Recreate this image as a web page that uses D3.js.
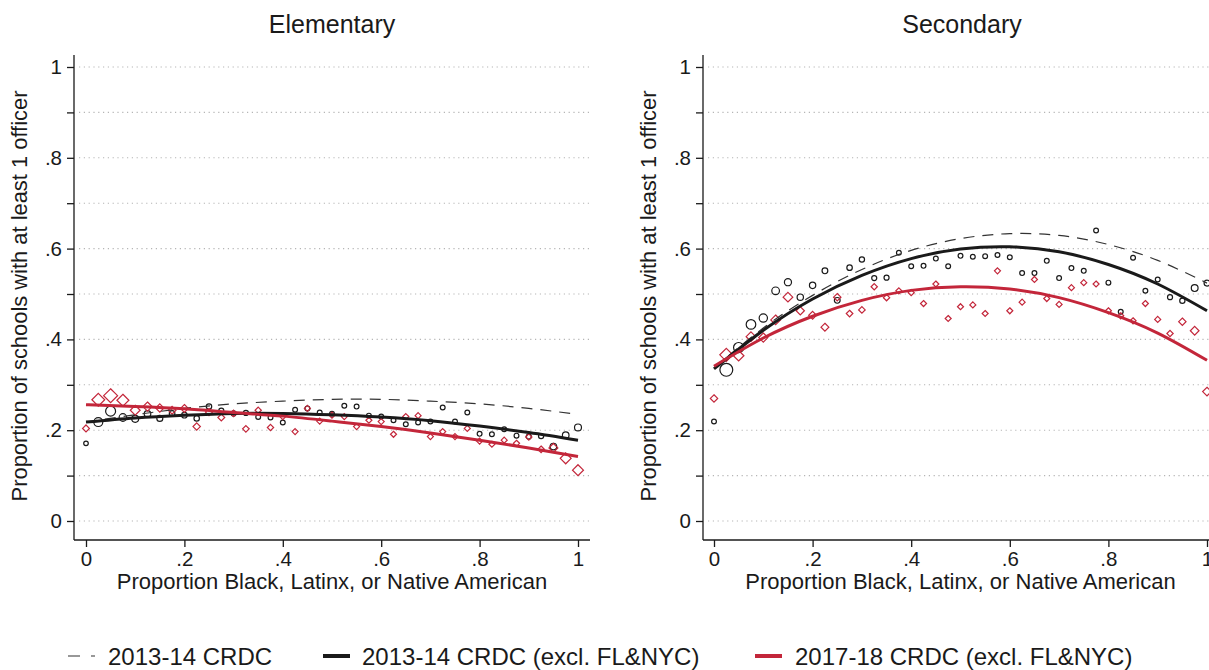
<!DOCTYPE html>
<html><head><meta charset="utf-8">
<script src="https://cdn.jsdelivr.net/npm/d3@7"></script>
<style>
body{margin:0;background:#fff}
text{font-family:"Liberation Sans",Arial,Helvetica,sans-serif;fill:#1a1a1a}
</style>
</head><body>
<svg id="c" width="1209" height="670"></svg>
<script>
// ---------- DATA ----------
const binX = [0,0.025,0.05,0.075,0.1,0.125,0.15,0.175,0.2,0.225,0.25,0.275,0.3,0.325,0.35,0.375,0.4,0.425,0.45,0.475,0.5,0.525,0.55,0.575,0.6,0.625,0.65,0.675,0.7,0.725,0.75,0.775,0.8,0.825,0.85,0.875,0.9,0.925,0.95,0.975,1];

// Elementary, 2013-14 CRDC (excl. FL&NYC) – binned means
const elemOld = [0.171,0.218,0.242,0.228,0.225,0.236,0.226,0.237,0.233,0.226,0.252,0.243,0.237,0.238,0.229,0.228,0.217,0.245,0.248,0.239,0.236,0.254,0.252,0.232,0.230,0.222,0.213,0.217,0.219,0.250,0.219,0.239,0.192,0.191,0.202,0.188,0.186,0.187,0.164,0.189,0.206];
const elemOldW = [0.92,3.5,4.3,2.5,2.1,1.9,1.56,1.36,1.36,1.27,1.27,1.1,1.1,1.1,1,1,1,1,1,1,1,1,1,1,1,1,1,1,1,1,1,1,1,1,1,1,1.1,1.17,1.9,1.9,2.1];
// Elementary, 2017-18 CRDC (excl. FL&NYC)
const elemNew = [0.204,0.267,0.276,0.266,0.244,0.252,0.249,0.244,0.248,0.208,0.240,0.228,0.237,0.203,0.244,0.206,0.230,0.197,0.248,0.220,0.233,0.230,0.208,0.222,0.219,0.191,0.230,0.232,0.186,0.197,0.186,0.204,0.176,0.169,0.178,0.171,0.185,0.158,0.161,0.138,0.112];
const elemNewW = [1.3,4.6,5.4,4.0,2.7,2.3,1.9,1.7,1.7,1.5,1.4,1.3,1.2,1.2,1.1,1.1,1,1,1,1,1,1,1,1,1,1,1,1,1,1,1,1,1,1,1,1.05,1.1,1.2,2.2,3.3,3.3];

// Secondary, 2013-14 CRDC (excl. FL&NYC)
const secOld = [0.219,0.333,0.382,0.433,0.447,0.507,0.526,0.493,0.519,0.551,0.486,0.558,0.576,0.535,0.536,0.591,0.561,0.562,0.578,0.561,0.584,0.582,0.583,0.586,0.581,0.546,0.546,0.573,0.535,0.557,0.551,0.640,0.525,0.461,0.580,0.507,0.532,0.493,0.485,0.513,0.524];
const secOldW = [1,7.2,4.5,4,3,2.56,2.2,1.74,1.74,1.44,1.44,1.3,1.2,1.1,1.1,1,1,1,1,1,1,1,1,1,1,1,1,1,1,1,1,1,1,1,1,1,1,1.1,1.2,2,1.5];
// Secondary, 2017-18 CRDC (excl. FL&NYC)
const secNew = [0.270,0.366,0.364,0.406,0.404,0.443,0.493,0.463,0.453,0.427,0.493,0.457,0.465,0.516,0.492,0.507,0.503,0.479,0.522,0.446,0.472,0.476,0.457,0.551,0.463,0.482,0.532,0.490,0.477,0.514,0.525,0.522,0.463,0.452,0.441,0.479,0.444,0.413,0.439,0.419,0.285];
const secNewW = [1.5,4.7,3.1,2.6,2.3,2.6,2.6,1.9,1.7,1.7,1.5,1.2,1.2,1.1,1.1,1,1,1,1,1,1,1,1,1,1,1,1,1,1,1,1,1,1,1,1,1,1,1.1,1.5,2.1,2.1];

// Quadratic fit curves, read at x = 0, .1, ..., 1
const fitX = [0,0.1,0.2,0.3,0.4,0.5,0.6,0.7,0.8,0.9,1];
const elemFitAll = [0.218,0.234,0.248,0.258,0.264,0.268,0.268,0.264,0.258,0.248,0.235];
const elemFitOld = [0.218,0.227,0.233,0.237,0.237,0.234,0.229,0.221,0.209,0.195,0.178];
const elemFitNew = [0.256,0.252,0.247,0.239,0.231,0.220,0.208,0.194,0.178,0.161,0.142];
const secFitAll = [0.337,0.425,0.497,0.554,0.596,0.622,0.633,0.629,0.609,0.574,0.524];
const secFitOld = [0.335,0.420,0.489,0.541,0.578,0.599,0.604,0.593,0.565,0.522,0.463];
const secFitNew = [0.341,0.403,0.451,0.486,0.508,0.516,0.511,0.492,0.459,0.414,0.354];

const yTicks = [0,0.1,0.2,0.3,0.4,0.5,0.6,0.7,0.8,0.9,1];
const yTickLabels = ["0","",".2","",".4","",".6","",".8","","1"];
const xTicks = [0,0.2,0.4,0.6,0.8,1];
const xTickLabels = ["0",".2",".4",".6",".8","1"];
const panelTitles = ["Elementary","Secondary"];
const xTitle = "Proportion Black, Latinx, or Native American";
const yTitle = "Proportion of schools with at least 1 officer";
const legendLabels = ["2013-14 CRDC","2013-14 CRDC (excl. FL&NYC)","2017-18 CRDC (excl. FL&NYC)"];

// ---------- STYLE ----------
const BLACK = "#1a1a1a", RED = "#c3263a", DASH = "#333";
const svg = d3.select("#c");
svg.append("rect").attr("width",1209).attr("height",670).attr("fill","#fff");

const panels = [
  {title:panelTitles[0], x0:86, x1:578, axisX:74, right:590, pts:[elemOld,elemOldW,elemNew,elemNewW], fits:[elemFitAll,elemFitOld,elemFitNew], titleX:332, yTitleX:27},
  {title:panelTitles[1], x0:714, x1:1207, axisX:703, right:1209, pts:[secOld,secOldW,secNew,secNewW], fits:[secFitAll,secFitOld,secFitNew], titleX:962, yTitleX:656}
];
const y = d3.scaleLinear().domain([0,1]).range([521,67]);
const rCirc = d3.scaleSqrt().domain([0,1]).range([0,2.4]);
const rDiam = d3.scaleSqrt().domain([0,1]).range([0,3.0]);
const axisBottomY = 540, axisTopY = 55;

panels.forEach(p=>{
  const x = d3.scaleLinear().domain([0,1]).range([p.x0,p.x1]);
  const g = svg.append("g");
  g.selectAll("line.grid").data(yTicks).join("line")
    .attr("x1",p.axisX+5).attr("x2",p.right).attr("y1",d=>y(d)).attr("y2",d=>y(d))
    .attr("stroke","#b5b5b5").attr("stroke-width",1.1).attr("stroke-dasharray","1.2,3.6");
  const ya = g.append("g").attr("transform",`translate(${p.axisX},0)`)
    .call(d3.axisLeft(y).tickValues(yTicks).tickSize(7).tickSizeOuter(0).tickPadding(5)
      .tickFormat((d,i)=>yTickLabels[i]));
  ya.select(".domain").remove();
  ya.selectAll(".tick line").attr("stroke",BLACK).attr("stroke-width",1.3);
  ya.selectAll(".tick text").attr("font-size",20.5).attr("font-family","Liberation Sans, Arial, sans-serif").attr("fill",BLACK);
  g.append("line").attr("x1",p.axisX).attr("x2",p.axisX).attr("y1",axisTopY).attr("y2",axisBottomY)
    .attr("stroke",BLACK).attr("stroke-width",1.3);
  const xa = g.append("g").attr("transform",`translate(0,${axisBottomY})`)
    .call(d3.axisBottom(x).tickValues(xTicks).tickSize(7).tickSizeOuter(0).tickPadding(4)
      .tickFormat((d,i)=>xTickLabels[i]));
  xa.select(".domain").remove();
  xa.selectAll(".tick line").attr("stroke",BLACK).attr("stroke-width",1.3);
  xa.selectAll(".tick text").attr("font-size",20.5).attr("font-family","Liberation Sans, Arial, sans-serif").attr("fill",BLACK);
  g.append("line").attr("x1",p.axisX).attr("x2",p.right).attr("y1",axisBottomY).attr("y2",axisBottomY)
    .attr("stroke",BLACK).attr("stroke-width",1.3);
  g.append("text").attr("x",p.titleX).attr("y",33).attr("text-anchor","middle").attr("font-size",25).text(p.title);
  g.append("text").attr("x",(p.x0+p.x1)/2).attr("y",589).attr("text-anchor","middle").attr("font-size",22).text(xTitle);
  g.append("text").attr("transform",`translate(${p.yTitleX},${296}) rotate(-90)`).attr("text-anchor","middle").attr("font-size",21.9).text(yTitle);

  const [oldY,oldW,newY,newW] = p.pts;
  g.selectAll("circle.pt").data(binX).join("circle")
    .attr("cx",d=>x(d)).attr("cy",(d,i)=>y(oldY[i])).attr("r",(d,i)=>rCirc(oldW[i]))
    .attr("fill","none").attr("stroke",BLACK).attr("stroke-width",1.2);
  g.selectAll("path.dm").data(binX).join("path")
    .attr("d",(d,i)=>{const h=rDiam(newW[i]);return `M0,${-h}L${h},0L0,${h}L${-h},0Z`;})
    .attr("transform",(d,i)=>`translate(${x(d)},${y(newY[i])})`)
    .attr("fill","none").attr("stroke",RED).attr("stroke-width",1.2);
  const line = vals => d3.line().curve(d3.curveNatural).x((d,i)=>x(fitX[i])).y((d,i)=>y(vals[i]))(vals);
  g.append("path").attr("d",line(p.fits[0])).attr("fill","none").attr("stroke",DASH).attr("stroke-width",1.2).attr("stroke-dasharray","11,8");
  g.append("path").attr("d",line(p.fits[1])).attr("fill","none").attr("stroke",BLACK).attr("stroke-width",3);
  g.append("path").attr("d",line(p.fits[2])).attr("fill","none").attr("stroke",RED).attr("stroke-width",3);
});

const lg = svg.append("g");
const legItems = [
  {x:68, tx:108, stroke:DASH, w:1.2, dash:"12,11"},
  {x:323, tx:362, stroke:BLACK, w:4, dash:null},
  {x:755, tx:795, stroke:RED, w:4, dash:null}
];
legItems.forEach((it,i)=>{
  lg.append("line").attr("x1",it.x).attr("x2",it.x+27).attr("y1",656).attr("y2",656)
    .attr("stroke",it.stroke).attr("stroke-width",it.w).attr("stroke-dasharray",it.dash);
  lg.append("text").attr("x",it.tx).attr("y",665).attr("font-size",24).text(legendLabels[i]);
});
</script>
</body></html>
